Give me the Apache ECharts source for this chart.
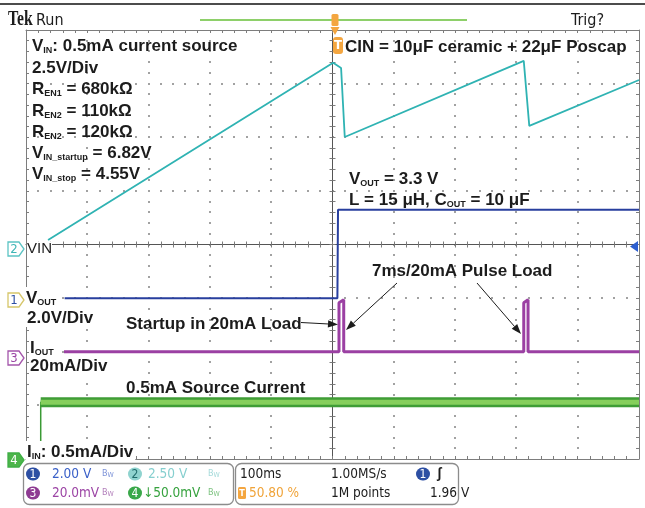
<!DOCTYPE html>
<html>
<head>
<meta charset="utf-8">
<script src="https://cdn.jsdelivr.net/npm/echarts@6/dist/echarts.min.js"></script>
<style>
  html, body { margin: 0; padding: 0; background: #fff; }
  #main { width: 645px; height: 508px; }
</style>
</head>
<body>
<div id="main"></div>
<script>
// time axis: ms from trigger, 100 ms/div, 10 div
var vinTime = [-464, 1, 14, 20, 312, 321, 500];
var vinVolt = [0.21, 8.47, 8.23, 5.01, 8.56, 5.53, 7.67];            // ch2, 2.5 V/div

var voutTime = [-437, 8, 9, 500];
var voutVolt = [0, 0, 3.3, 3.3];                                      // ch1, 2 V/div

var ioutTime = [-438, 10.6, 10.6, 18.3, 18.3, 312, 312, 319, 319, 500];
var ioutMa   = [0, 0, 18.3, 19.4, 0, 0, 18.3, 19.4, 0, 0];             // ch3, 20 mA/div

var iinTime = [-476, -476, 500];
var iinMa   = [0, 0.53, 0.53];                                        // ch4, 0.5 mA/div

function zip(xs, ys) { return xs.map(function (x, i) { return [x, ys[i]]; }); }

var SANS = '"Liberation Sans", Arial, sans-serif';
var NARROW = '"Liberation Sans Narrow", "DejaVu Sans Condensed", "Arial Narrow", sans-serif';
var INK = '#1c1c1c';
var GRID = '#7d7d7d';

var rich = {
  b: { fontFamily: SANS, fontWeight: 'bold', fontSize: 17, lineHeight: 20, fill: INK, color: INK, verticalAlign: 'bottom' },
  s: { fontFamily: SANS, fontWeight: 'bold', fontSize: 9, lineHeight: 10, fill: INK, color: INK, verticalAlign: 'bottom' }
};

function note(x, y, str, bg) {
  var st = { text: str, rich: rich, align: 'left', verticalAlign: 'middle' };
  if (bg) { st.backgroundColor = '#fff'; st.padding = [0, 2, 0, 1]; }
  return { type: 'text', x: x, y: y, z: 100, style: st };
}

function plain(x, y, str, size, color, family, weight) {
  return { type: 'text', x: x, y: y, z: 100, style: {
    text: str, fill: color, fontSize: size, fontFamily: family || NARROW,
    fontWeight: weight || 'normal', align: 'left', verticalAlign: 'middle' } };
}

function arrow(x1, y1, x2, y2) {
  var a = Math.atan2(y2 - y1, x2 - x1), L = 10, W = 3.6;
  var bx = x2 - L * Math.cos(a), by = y2 - L * Math.sin(a);
  var px = -Math.sin(a) * W, py = Math.cos(a) * W;
  return [
    { type: 'line', z: 100, shape: { x1: x1, y1: y1, x2: bx, y2: by }, style: { stroke: INK, lineWidth: 1 } },
    { type: 'polygon', z: 100, shape: { points: [[x2, y2], [bx + px, by + py], [bx - px, by - py]] }, style: { fill: INK } }
  ];
}

// channel ground tag on the left edge
function tag(yc, label, stroke, textColor, fill) {
  var x0 = 8, w = 16, h = 14;
  return [
    { type: 'polygon', z: 90, shape: { points: [[x0, yc - h / 2], [x0 + w - 5, yc - h / 2], [x0 + w, yc], [x0 + w - 5, yc + h / 2], [x0, yc + h / 2]] },
      style: { fill: fill || '#fff', stroke: stroke, lineWidth: 1.3 } },
    { type: 'text', z: 91, x: x0 + 6, y: yc + 0.5, style: { text: label, fill: textColor, fontSize: 13, fontFamily: NARROW, align: 'center', verticalAlign: 'middle' } }
  ];
}

function pill(cx, cy, label, fill, textColor) {
  return [
    { type: 'rect', z: 90, shape: { x: cx - 7, y: cy - 6.5, width: 14, height: 13, r: 6.5 }, style: { fill: fill } },
    { type: 'text', z: 91, x: cx, y: cy + 0.5, style: { text: label, fill: textColor, fontSize: 12, fontFamily: NARROW, align: 'center', verticalAlign: 'middle' } }
  ];
}

function bw(x, y, color) {
  return { type: 'text', z: 91, x: x, y: y, style: { text: '{a|B}{c|W}', align: 'left', verticalAlign: 'middle',
    rich: { a: { fontSize: 9, fontFamily: NARROW, fill: color, color: color, lineHeight: 10, verticalAlign: 'top' },
            c: { fontSize: 7, fontFamily: NARROW, fill: color, color: color, lineHeight: 8, verticalAlign: 'bottom' } } } };
}

var tick = { color: GRID, width: 1 };
function tAxis(pos, extra) {
  return Object.assign({
    type: 'value', min: -500, max: 500, interval: 100, position: pos,
    axisLabel: { show: false }, splitLine: { show: false }, minorSplitLine: { show: false },
    axisLine: { show: true, onZero: false, lineStyle: { color: GRID, width: 1 } },
    axisTick: { show: true, inside: true, length: 3, lineStyle: tick },
    minorTick: { show: true, splitNumber: 5, length: 3, lineStyle: tick }
  }, extra || {});
}
function dAxis(pos, extra) {
  return Object.assign({
    type: 'value', min: -4, max: 4, interval: 1, position: pos,
    axisLabel: { show: false }, splitLine: { show: false }, minorSplitLine: { show: false },
    axisLine: { show: true, onZero: false, lineStyle: { color: GRID, width: 1 } },
    axisTick: { show: true, inside: true, length: 3, lineStyle: tick },
    minorTick: { show: true, splitNumber: 5, length: 3, lineStyle: tick }
  }, extra || {});
}
function chAxis(min, max) {
  return { type: 'value', min: min, max: max, show: false, splitLine: { show: false }, axisLine: { onZero: false } };
}

var graphics = [
  { type: 'line', shape: { x1: 0, y1: 4, x2: 645, y2: 4 }, style: { stroke: '#111', lineWidth: 1.5 } },
  { type: 'text', x: 8, y: 20, scaleX: 0.78, z: 100, style: { text: 'Tek', fill: INK, fontSize: 20, fontWeight: 'bold', fontFamily: '"Liberation Serif", serif', align: 'left', verticalAlign: 'middle' } },
  plain(36, 20.5, 'Run', 16, INK),
  plain(571, 20.5, 'Trig?', 16, INK),
  { type: 'line', shape: { x1: 200, y1: 20, x2: 467, y2: 20 }, style: { stroke: '#8ed06a', lineWidth: 2 } },
  // trigger position markers
  { type: 'rect', z: 95, shape: { x: 331.5, y: 14, width: 7, height: 12, r: 1.5 }, style: { fill: '#f4a640' } },
  { type: 'polygon', z: 95, shape: { points: [[330.5, 27], [339.5, 27], [335, 35]] }, style: { fill: '#f4a640' } },
  { type: 'rect', z: 95, shape: { x: 333, y: 37, width: 10, height: 17, r: 3 }, style: { fill: '#f4a640' } },
  { type: 'text', z: 96, x: 338, y: 45.5, style: { text: 'T', fill: '#fff', fontSize: 13, fontWeight: 'bold', fontFamily: NARROW, align: 'center', verticalAlign: 'middle' } },
  // trigger level arrow
  { type: 'polygon', z: 95, shape: { points: [[630, 246.5], [638, 241], [638, 252]] }, style: { fill: '#2d5fd0' } },

  note(32, 45, '{b|V}{s|IN}{b|: 0.5mA current source}'),
  note(32, 67, '{b|2.5V/Div}'),
  note(32, 88, '{b|R}{s|EN1}{b| = 680kΩ}'),
  note(32, 110, '{b|R}{s|EN2}{b| = 110kΩ}'),
  note(32, 131, '{b|R}{s|EN2}{b| = 120kΩ}'),
  note(32, 152, '{b|V}{s|IN_startup}{b| = 6.82V}'),
  note(32, 173, '{b|V}{s|IN_stop}{b| = 4.55V}'),
  note(345, 46, '{b|CIN = 10μF ceramic + 22μF Poscap}'),
  note(349, 178, '{b|V}{s|OUT}{b| = 3.3 V}'),
  note(349, 199, '{b|L = 15 μH, C}{s|OUT}{b| = 10 μF}'),
  note(372, 270, '{b|7ms/20mA Pulse Load}'),
  note(126, 323, '{b|Startup in 20mA Load}'),
  note(126, 387, '{b|0.5mA Source Current}'),
  note(25, 297, '{b|V}{s|OUT}', true),
  note(26, 317, '{b|2.0V/Div}', true),
  note(29, 347, '{b|I}{s|OUT}', true),
  note(29, 365, '{b|20mA/Div}', true),
  note(26, 451, '{b|I}{s|IN}{b|: 0.5mA/Div}', true),
  { type: 'text', x: 27, y: 249, z: 100, style: { text: 'VIN', fill: INK, fontSize: 15, fontFamily: SANS, align: 'left', verticalAlign: 'middle', backgroundColor: '#fff' } },

  // bottom readout boxes
  { type: 'rect', z: 80, shape: { x: 23.5, y: 463.5, width: 210, height: 41, r: 6 }, style: { fill: '#fff', stroke: '#8c8c8c', lineWidth: 1.3 } },
  { type: 'rect', z: 80, shape: { x: 235.5, y: 463.5, width: 223, height: 41, r: 6 }, style: { fill: '#fff', stroke: '#8c8c8c', lineWidth: 1.3 } },
  plain(52, 474, '2.00 V', 13.5, '#3a60c8'),
  plain(148, 474, '2.50 V', 13.5, '#86cfcf'),
  plain(52, 493, '20.0mV', 13.5, '#9c45a5'),
  plain(143, 493, '↓50.0mV', 13.5, '#36a23e'),
  bw(102, 474, '#7d93d8'), bw(208, 474, '#a4dada'),
  bw(102, 493, '#b27fbb'), bw(208, 493, '#7cc27f'),
  plain(240, 474, '100ms', 13.5, INK),
  plain(331, 474, '1.00MS/s', 13.5, INK),
  plain(437, 474, 'ʃ', 14, INK, SANS, 'bold'),
  { type: 'rect', z: 90, shape: { x: 238, y: 487, width: 8, height: 12, r: 1.5 }, style: { fill: '#f4a640' } },
  { type: 'text', z: 91, x: 242, y: 493.5, style: { text: 'T', fill: '#fff', fontSize: 9, fontWeight: 'bold', fontFamily: NARROW, align: 'center', verticalAlign: 'middle' } },
  plain(249, 493, '50.80 %', 13.5, '#f0a43a'),
  plain(331, 493, '1M points', 13.5, INK),
  plain(430, 493, '1.96 V', 13.5, INK)
];

graphics = graphics
  .concat(arrow(301, 322.5, 338, 324.5))
  .concat(arrow(397, 283, 346, 330))
  .concat(arrow(477, 283, 521, 334))
  .concat(tag(249, '2', '#5cc4c4', '#3fb6b6'))
  .concat(tag(300, '1', '#d6c66a', '#2d4fa3'))
  .concat(tag(358, '3', '#a455ab', '#9c45a5'))
  .concat(tag(460, '4', '#3fae45', '#fff', '#4cb54a'))
  .concat(pill(33, 474, '1', '#2d4fa3', '#fff'))
  .concat(pill(135, 474, '2', '#8fd3cf', '#1f6b6b'))
  .concat(pill(33, 493, '3', '#8e3b92', '#fff'))
  .concat(pill(135, 493, '4', '#3aa84a', '#fff'))
  .concat(pill(423, 474, '1', '#2d4fa3', '#fff'));

var chart = echarts.init(document.getElementById('main'));
chart.setOption({
  animation: false,
  backgroundColor: '#fff',
  grid: { left: 26, top: 30, width: 613, height: 429, containLabel: false, outerBoundsMode: 'none' },
  xAxis: [
    tAxis('bottom'),
    tAxis('top'),
    tAxis('bottom', { axisLine: { show: true, onZero: true, onZeroAxisIndex: 0, lineStyle: { color: '#555', width: 1 } } }),
    tAxis('top', { axisLine: { show: false, onZero: true, onZeroAxisIndex: 0 } })
  ],
  yAxis: [
    dAxis('left'),
    dAxis('right'),
    dAxis('left', { axisLine: { show: true, onZero: true, onZeroAxisIndex: 0, lineStyle: { color: '#555', width: 1 } } }),
    dAxis('right', { axisLine: { show: false, onZero: true, onZeroAxisIndex: 0 } }),
    chAxis(-10, 10),    // ch2 VIN, 2.5 V/div, ground at centre
    chAxis(-6, 10),     // ch1 VOUT, 2 V/div
    chAxis(-40, 120),   // ch3 IOUT, 20 mA/div
    chAxis(0, 4)        // ch4 IIN, 0.5 mA/div
  ],
  series: [
    { name: 'IIN', type: 'line', yAxisIndex: 7, data: zip(iinTime, iinMa), symbol: 'none',
      lineStyle: { color: '#3a9a34', width: 1.5 }, z: 3 },
    { name: 'IIN band', type: 'line', yAxisIndex: 7, data: zip(iinTime.slice(1), iinMa.slice(1)), symbol: 'none',
      lineStyle: { color: '#3f9d36', width: 10, cap: 'butt' }, z: 3 },
    { name: 'IIN core', type: 'line', yAxisIndex: 7, data: zip(iinTime.slice(1), iinMa.slice(1)), symbol: 'none',
      lineStyle: { color: '#86cf5c', width: 5, cap: 'butt' }, z: 3 },
    { name: 'IOUT', type: 'line', yAxisIndex: 6, data: zip(ioutTime, ioutMa), symbol: 'none',
      lineStyle: { color: '#9b40a3', width: 3 }, z: 4 },
    { name: 'VOUT', type: 'line', yAxisIndex: 5, data: zip(voutTime, voutVolt), symbol: 'none',
      lineStyle: { color: '#283f9e', width: 2 }, z: 5 },
    { name: 'VIN', type: 'line', yAxisIndex: 4, data: zip(vinTime, vinVolt), symbol: 'none',
      lineStyle: { color: '#2fb3b3', width: 1.8 }, z: 6 }
  ]
});

// dotted graticule: small dots at every fifth of a division, placed from the axis scales
var px = function (t) { return chart.convertToPixel({ xAxisIndex: 0 }, t); };
var py = function (d) { return chart.convertToPixel({ yAxisIndex: 0 }, d); };
var dots = [];
function dotAt(x, y) {
  dots.push({ type: 'rect', silent: true, shape: { x: Math.round(x) - 1, y: Math.round(y) - 1, width: 2, height: 2 },
    style: { fill: '#a2a2a2' } });
}
for (var t = -400; t <= 400; t += 100) {
  if (t === 0) continue;
  for (var k = 1; k < 40; k++) dotAt(px(t), py(4 - k / 5));
}
for (var d = -3; d <= 3; d++) {
  if (d === 0) continue;
  for (var m = 1; m < 50; m++) dotAt(px(-500 + m * 20), py(d));
}
// dots go first so every other element is painted over them
graphics.unshift({ type: 'group', silent: true, children: dots });
chart.setOption({ graphic: { elements: graphics } });
</script>
</body>
</html>
